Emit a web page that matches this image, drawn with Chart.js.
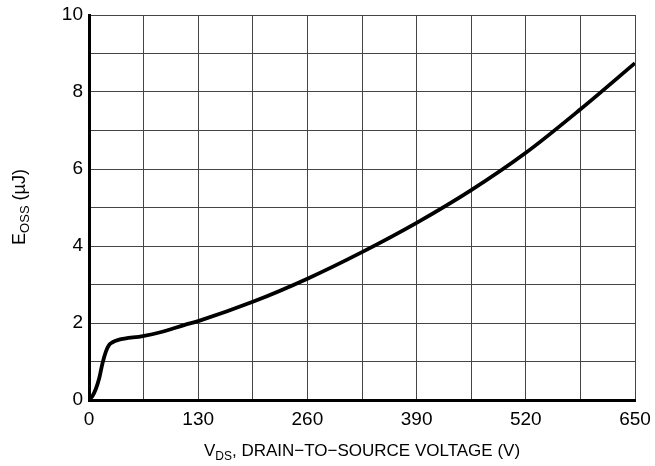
<!DOCTYPE html>
<html>
<head>
<meta charset="utf-8">
<script src="https://cdn.jsdelivr.net/npm/chart.js@4"></script>
<style>
  html, body { margin: 0; padding: 0; background: #fff; }
  #wrap { width: 655px; height: 466px; position: relative; }
</style>
</head>
<body>
<div id="wrap"><canvas id="eossChart" width="655" height="466"></canvas></div>
<script>
// V_DS (V) and E_OSS (uJ)
const vds  = [0, 4, 8, 12, 16, 20, 24, 28, 35, 64, 85, 114, 130, 195, 260, 325, 390, 455, 520, 585, 650];
const eoss = [0, 0.1, 0.28, 0.55, 0.95, 1.25, 1.43, 1.5, 1.56, 1.66, 1.76, 1.95, 2.05, 2.55, 3.15, 3.84, 4.6, 5.45, 6.42, 7.55, 8.75];
const xTicks = [0, 130, 260, 390, 520, 650];
const yTicks = [0, 2, 4, 6, 8, 10];

const font = "'Liberation Sans', Arial, Helvetica, sans-serif";

// axis titles with subscripts
const titlesPlugin = {
  id: 'titles',
  afterDraw(chart) {
    const ctx = chart.ctx;
    ctx.save();
    ctx.fillStyle = '#000';
    ctx.textBaseline = 'alphabetic';

    // x title
    const big = '17px ' + font, small = '12px ' + font;
    ctx.font = big; const w1 = ctx.measureText('V').width;
    ctx.font = small; const w2 = ctx.measureText('DS').width;
    ctx.font = big; const w3 = ctx.measureText(', DRAIN\u2212TO\u2212SOURCE VOLTAGE (V)').width;
    let x = (chart.chartArea.left + chart.chartArea.right) / 2 - (w1 + w2 + w3) / 2;
    const yb = 456;
    ctx.font = big; ctx.fillText('V', x, yb); x += w1;
    ctx.font = small; ctx.fillText('DS', x, yb + 4); x += w2;
    ctx.font = big; ctx.fillText(', DRAIN\u2212TO\u2212SOURCE VOLTAGE (V)', x, yb);

    // y title, rotated
    const ybig = '18px ' + font, ysmall = '13px ' + font;
    ctx.translate(25, 207);
    ctx.rotate(-Math.PI / 2);
    ctx.font = ybig; const a1 = ctx.measureText('E').width;
    ctx.font = ysmall; const a2 = ctx.measureText('OSS').width;
    ctx.font = ybig; const a3 = ctx.measureText(' (\u00b5J)').width;
    let t = -(a1 + a2 + a3) / 2;
    ctx.font = ybig; ctx.fillText('E', t, 0); t += a1;
    ctx.font = ysmall; ctx.fillText('OSS', t, 4); t += a2;
    ctx.font = ybig; ctx.fillText(' (\u00b5J)', t, 0);
    ctx.restore();
  }
};

new Chart(document.getElementById('eossChart').getContext('2d'), {
  type: 'scatter',
  data: {
    datasets: [{
      data: vds.map((v, i) => ({ x: v, y: eoss[i] })),
      showLine: true,
      borderColor: '#000',
      borderWidth: 3.8,
      pointRadius: 0,
      cubicInterpolationMode: 'monotone'
    }]
  },
  options: {
    responsive: false,
    animation: false,
    layout: { padding: { left: 0, right: 20, top: 15, bottom: 0 } },
    plugins: { legend: { display: false }, tooltip: { enabled: false } },
    scales: {
      x: {
        type: 'linear', min: 0, max: 650,
        afterFit: s => { s.height = 66; s.paddingLeft = 0; s.paddingRight = 0; },
        afterBuildTicks: s => { s.ticks = []; for (let v = 0; v <= 650; v += 65) s.ticks.push({ value: v }); },
        ticks: {
          autoSkip: false, maxRotation: 0, padding: 8, color: '#000',
          font: { family: font, size: 19 },
          callback: v => xTicks.includes(v) ? String(v) : ''
        },
        grid: { color: '#444', lineWidth: 1, drawTicks: false },
        border: { color: '#000', width: 3 }
      },
      y: {
        min: 0, max: 10,
        afterFit: s => { s.width = 89; s.paddingTop = 0; s.paddingBottom = 0; },
        afterBuildTicks: s => { s.ticks = []; for (let v = 0; v <= 10; v += 1) s.ticks.push({ value: v }); },
        ticks: {
          autoSkip: false, padding: 6, color: '#000',
          font: { family: font, size: 19 },
          callback: v => yTicks.includes(v) ? String(v) : ''
        },
        grid: { color: '#444', lineWidth: 1, drawTicks: false },
        border: { color: '#000', width: 3 }
      }
    }
  },
  plugins: [titlesPlugin]
});
</script>
</body>
</html>
